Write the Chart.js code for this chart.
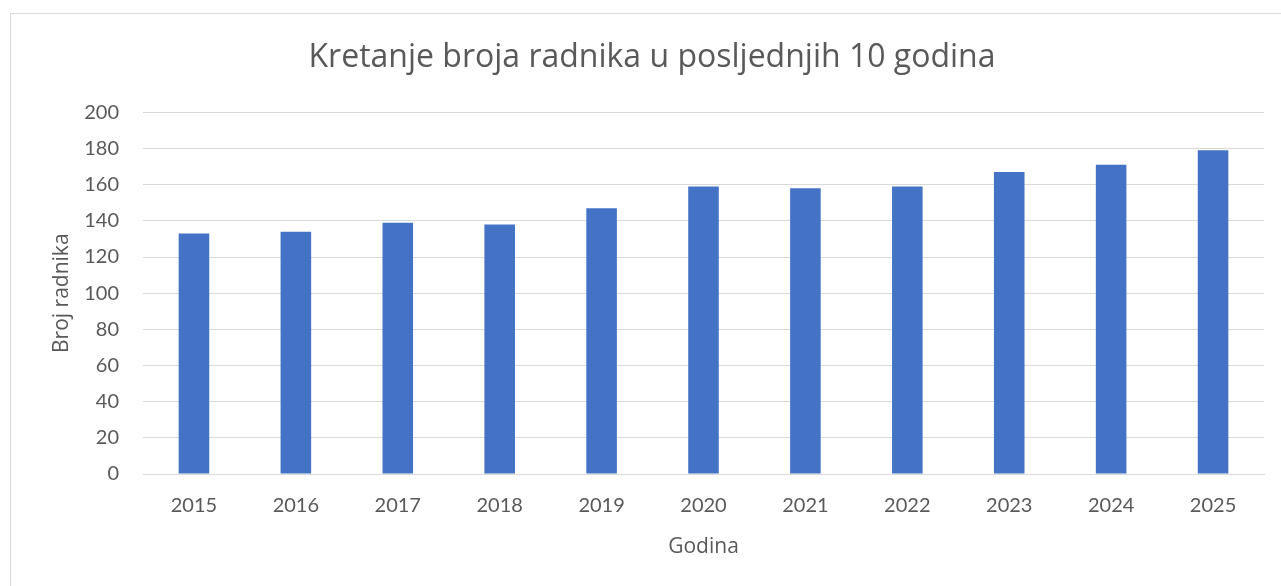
<!DOCTYPE html>
<html>
<head>
<meta charset="utf-8">
<script src="https://cdn.jsdelivr.net/npm/chart.js@4.4.1/dist/chart.umd.min.js"></script>
<style>
  html, body { margin: 0; padding: 0; background: #fff; overflow: hidden; }
  #frame { position: absolute; left: 10px; top: 13px; width: 1300px; height: 600px; border: 1px solid #d9d9d9; }
  #wrap { position: absolute; left: 0; top: 0; width: 1281px; height: 586px; }
</style>
</head>
<body>
<div id="frame"></div>
<div id="wrap"><canvas id="radniciChart" width="1281" height="586"></canvas></div>
<script>
// podaci sa grafa
const godine = ['2015', '2016', '2017', '2018', '2019', '2020', '2021', '2022', '2023', '2024', '2025'];
const brojRadnika = [133, 134, 139, 138, 147, 159, 158, 159, 167, 171, 179];
const yTicks = [0, 20, 40, 60, 80, 100, 120, 140, 160, 180, 200];

const textColor = '#595959';
const tickFont = 'Lato, "Open Sans", sans-serif';
const titleFont = '"Open Sans", Lato, sans-serif';

const ctx = document.getElementById('radniciChart').getContext('2d');
const chart = new Chart(ctx, {
    type: 'bar',
    data: {
        labels: godine,
        datasets: [
            {
                label: 'Broj radnika',
                data: brojRadnika,
                backgroundColor: '#4472c4',
                borderColor: '#4472c4',
                borderWidth: 0,
                barPercentage: 0.3,
                categoryPercentage: 1,
            },
        ],
    },
    options: {
        responsive: false,
        animation: false,
        devicePixelRatio: 1,
        layout: { padding: { left: 40, right: 17, top: 0, bottom: 0 } },
        plugins: {
            legend: { display: false },
            tooltip: { enabled: false },
            title: {
                display: true,
                text: 'Kretanje broja radnika u posljednjih 10 godina',
                color: textColor,
                font: { family: titleFont, size: 32, weight: 'normal' },
                padding: { top: 39, bottom: 35 },
            },
        },
        scales: {
            x: {
                grid: { display: false, drawTicks: false },
                border: { display: true, color: '#d9d9d9', width: 1 },
                ticks: {
                    color: textColor,
                    font: { family: tickFont, size: 20 },
                    padding: 20,
                    maxRotation: 0,
                },
                title: {
                    display: true,
                    text: 'Godina',
                    color: textColor,
                    font: { family: titleFont, size: 21 },
                    padding: { bottom: 26 },
                },
                afterFit: (scale) => { scale.height = 112; },
            },
            y: {
                min: 0,
                max: 200,
                afterBuildTicks: (scale) => { scale.ticks = yTicks.map((v) => ({ value: v })); },
                grid: { color: '#d9d9d9', lineWidth: 1, drawTicks: false },
                border: { display: false },
                ticks: {
                    color: textColor,
                    font: { family: tickFont, size: 20 },
                    padding: 24,
                },
                title: {
                    display: true,
                    text: 'Broj radnika',
                    color: textColor,
                    font: { family: titleFont, size: 21 },
                    padding: { top: 9 },
                },
                afterFit: (scale) => { scale.width = 103; },
            },
        },
    },
});
</script>
</body>
</html>
